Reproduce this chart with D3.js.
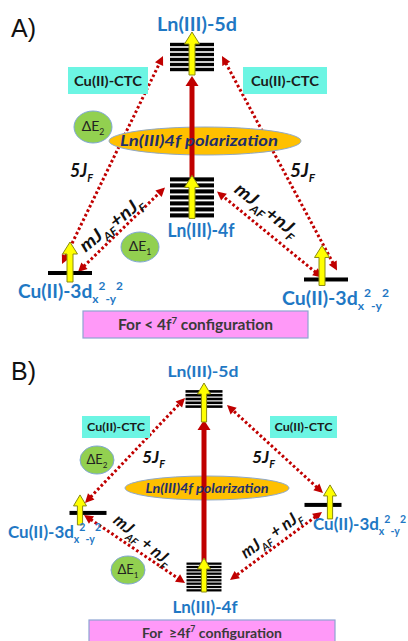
<!DOCTYPE html>
<html><head><meta charset="utf-8">
<script src="https://cdn.jsdelivr.net/npm/d3@7"></script>
<style>html,body{margin:0;padding:0;background:#fff;} svg{display:block;}</style>
</head><body><svg id="c" width="408" height="641"></svg>
<script>
// ---------------- DATA ----------------
const panelLabels = ["A)", "B)"];
const levelNames = ["Cu(II)-3d_{x}^{2}_{-y}^{2}", "Ln(III)-4f", "Ln(III)-5d", "Cu(II)-3d_{x}^{2}_{-y}^{2}"];
const levelSites = ["left", "center", "center", "right"];
const energiesA = [0, 3.5, 10, -0.3];
const energiesB = [3.6, 0, 10, 4.05];
const sublevelsA = [1, 7, 6, 1];
const sublevelsB = [1, 9, 5, 1];
const couplingPairs = [[0, 2], [3, 2], [0, 1], [3, 1]];
const couplingTextsA = ["5J_{F}", "5J_{F}", "mJ_{AF}+nJ_{F}", "mJ_{AF}+nJ_{F}"];
const couplingTextsB = ["5J_{F}", "5J_{F}", "mJ_{AF} + nJ_{F}", "mJ_{AF} + nJ_{F}"];
const transferLabels = ["Cu(II)-CTC", "Cu(II)-CTC"];
const polarizationLabel = "Ln(III)4f polarization";
const gapLabels = ["ΔE_{2}", "ΔE_{1}"];
const configLabels = ["For < 4f^{7} configuration", "For  ≥4f^{7} configuration"];

// ---------------- LAYOUT (positions / styles) ----------------
const layouts = [
  {
    label: [11, 37], labelSize: 25,
    xRange: [70, 192, 326], yRange: [273, 57],
    stackW: [44, 44, 44, 44], stackH: [4, 42, 30, 4],
    arrowDx: [0, 0, 0, -4], arrowExt: [[9, 31], [21, 22], [18, 25], [6, 34]],
    shaft: 3, head: 7.5, headL: 12,
    red: [-20, 19],
    ends: [[[-8, -9], [-29, -1]], [[11, -9], [30, -1]], [[8, -1], [-27, -10]], [[-4, -2], [25, -6]]],
    names: [{x: 18, y: 298, a: "start", s: 18, w: 105}, {dx: 9, dy: 40, a: "middle", s: 18, w: 67}, {dx: 5, dy: -26, a: "middle", s: 18, w: 80}, {x: 282, y: 305, a: "start", s: 18, w: 107}],
    ctc: [[68, 67, 80, 27], [243, 67, 84, 27]], ctcSize: 14, ctcW: 68,
    gaps: [[93, 127, 19, 16], [140, 247, 19, 15]], gapSize: 14,
    pol: [205, 141, 96, 14], polSize: 15, polTextDx: -6, polW: 158,
    coup: [{x: 70, y: 177, r: 0, w: 23}, {x: 290, y: 177, r: 0, w: 25}, {x: 111, y: 224, r: -39, c: true, w: 76}, {x: 267, y: 210, r: 38, c: true, w: 76}], coupSize: 18,
    cfg: [83, 311, 225, 27], cfgSize: 15, cfgW: 155
  },
  {
    label: [11, 380], labelSize: 25,
    xRange: [88, 204, 323], yRange: [577, 399],
    stackW: [37, 35, 37, 37], stackH: [4, 30, 19, 4],
    arrowDx: [-8, 0, 0, 7], arrowExt: [[12, 18], [15, 19], [23, 16], [14, 20]],
    shaft: 2.6, head: 6.5, headL: 11,
    red: [-14, 21],
    ends: [[[-3, -10], [-19, -1]], [[0, -12], [23, 6]], [[-4, 2], [-19, 6]], [[-1, 7], [26, 3]]],
    names: [{x: 8, y: 538, a: "start", s: 17, w: 93}, {dx: 1, dy: 36, a: "middle", s: 17, w: 65}, {dx: -1, dy: -22, a: "middle", s: 16, w: 71}, {x: 313, y: 530, a: "start", s: 17, w: 93}],
    ctc: [[82, 416, 68, 22], [270, 416, 67, 22]], ctcSize: 12, ctcW: 58,
    gaps: [[97, 460, 17, 14], [128, 570, 17, 14]], gapSize: 13,
    pol: [207, 488, 82, 12], polSize: 13, polTextDx: 0, polW: 123,
    coup: [{x: 142, y: 463, r: 0, w: 23}, {x: 252, y: 463, r: 0, w: 23}, {x: 143, y: 540, r: 40, c: true, w: 70}, {x: 271, y: 534, r: -35, c: true, w: 70}], coupSize: 17,
    cfg: [89, 620, 246, 26], cfgSize: 14, cfgW: 140
  }
];

const FONT = "Lato, 'Open Sans', sans-serif";
const RED = "#C00000";
const BLUE = "#1F78C4";

const svg = d3.select("#c");
svg.append("rect").attr("width", 408).attr("height", 641).attr("fill", "#fff");

// rich text helper: _{sub}, ^{sup}; optional target width
function rich(sel, str, size, width) {
  const toks = str.match(/(_\{[^}]*\}|\^\{[^}]*\}|[^_^]+)/g);
  let cur = 0;
  toks.forEach(t => {
    let mode = 0, txt = t;
    if (t.startsWith("_{")) { mode = 1; txt = t.slice(2, -1); }
    else if (t.startsWith("^{")) { mode = 2; txt = t.slice(2, -1); }
    const off = mode === 1 ? size * 0.28 : mode === 2 ? -size * 0.42 : 0;
    sel.append("tspan").attr("dy", off - cur)
      .attr("font-size", mode ? size * 0.62 : size)
      .attr("xml:space", "preserve")
      .text(txt);
    cur = off;
  });
  if (width) sel.attr("textLength", width).attr("lengthAdjust", "spacingAndGlyphs");
}

function drawPanel(p) {
  const L = layouts[p];
  const energies = p === 0 ? energiesA : energiesB;
  const subs = p === 0 ? sublevelsA : sublevelsB;
  const coupTexts = p === 0 ? couplingTextsA : couplingTextsB;
  const x = d3.scaleOrdinal().domain(["left", "center", "right"]).range(L.xRange);
  const y = d3.scaleLinear().domain([0, 10]).range(L.yRange);
  const g = svg.append("g");
  const lv = levelNames.map((n, i) => ({i, name: n, x: x(levelSites[i]), y: y(energies[i]), n: subs[i]}));

  // panel label
  g.append("text").attr("x", L.label[0]).attr("y", L.label[1])
    .attr("font-family", "'Liberation Sans', Arial, sans-serif").attr("font-size", L.labelSize)
    .attr("fill", "#111").text(panelLabels[p]);

  // dotted coupling arrows
  couplingPairs.forEach(([a, b], k) => {
    const e = L.ends[k];
    const p1 = [lv[a].x + e[0][0], lv[a].y + e[0][1]];
    const p2 = [lv[b].x + e[1][0], lv[b].y + e[1][1]];
    const ang = Math.atan2(p2[1] - p1[1], p2[0] - p1[0]);
    const hl = 9, hw = 4.5;
    const c = Math.cos(ang), s = Math.sin(ang);
    g.append("line")
      .attr("x1", p1[0] + c * (hl - 1)).attr("y1", p1[1] + s * (hl - 1))
      .attr("x2", p2[0] - c * (hl - 1)).attr("y2", p2[1] - s * (hl - 1))
      .attr("stroke", RED).attr("stroke-width", 3).attr("stroke-dasharray", "2.6 2.4");
    [[p2, 1], [p1, -1]].forEach(([tip, d]) => {
      const bx = tip[0] - d * c * hl, by = tip[1] - d * s * hl;
      g.append("path")
        .attr("d", `M${tip[0]},${tip[1]}L${bx - s * hw},${by + c * hw}L${bx + s * hw},${by - c * hw}Z`)
        .attr("fill", RED);
    });
  });

  // CTC boxes
  L.ctc.forEach((r, k) => {
    g.append("rect").attr("x", r[0]).attr("y", r[1]).attr("width", r[2]).attr("height", r[3]).attr("fill", "#6CF5E3");
    g.append("text").attr("x", r[0] + r[2] / 2).attr("y", r[1] + r[3] / 2 + L.ctcSize * 0.36)
      .attr("text-anchor", "middle").attr("font-family", FONT).attr("font-weight", 700)
      .attr("font-size", L.ctcSize).attr("fill", "#1a1a1a")
      .attr("textLength", L.ctcW).attr("lengthAdjust", "spacingAndGlyphs")
      .text(transferLabels[k]);
  });

  // gap ellipses
  L.gaps.forEach((e, k) => {
    g.append("ellipse").attr("cx", e[0]).attr("cy", e[1]).attr("rx", e[2]).attr("ry", e[3])
      .attr("fill", "#92D050").attr("stroke", "#7FA6D6").attr("stroke-width", 1);
    const t = g.append("text").attr("x", e[0]).attr("y", e[1] + L.gapSize * 0.3)
      .attr("text-anchor", "middle").attr("font-family", FONT).attr("font-size", L.gapSize).attr("fill", "#222");
    rich(t, gapLabels[k], L.gapSize);
  });

  // polarization ellipse
  const pe = L.pol;
  g.append("ellipse").attr("cx", pe[0]).attr("cy", pe[1]).attr("rx", pe[2]).attr("ry", pe[3])
    .attr("fill", "#FFC000").attr("stroke", "#8FA8C8").attr("stroke-width", 1);

  // red transition arrow 4f -> 5d
  const yb = lv[1].y + L.red[0], yt = lv[2].y + L.red[1];
  const cx = lv[1].x;
  g.append("line").attr("x1", cx).attr("x2", cx).attr("y1", yb).attr("y2", yt + 8)
    .attr("stroke", RED).attr("stroke-width", 5);
  g.append("path").attr("d", `M${cx},${yt}L${cx - 6.5},${yt + 10}L${cx + 6.5},${yt + 10}Z`).attr("fill", RED);

  g.append("text").attr("x", pe[0] + L.polTextDx).attr("y", pe[1] + L.polSize * 0.36)
    .attr("text-anchor", "middle").attr("font-family", FONT).attr("font-weight", 700)
    .attr("font-style", "italic").attr("font-size", L.polSize).attr("fill", "#1F2F6B")
    .attr("textLength", L.polW).attr("lengthAdjust", "spacingAndGlyphs")
    .text(polarizationLabel);

  // levels (stacks of sublevels)
  lv.forEach(d => {
    const w = L.stackW[d.i], H = L.stackH[d.i];
    if (d.n === 1) {
      g.append("rect").attr("x", d.x - w / 2).attr("y", d.y - H / 2).attr("width", w).attr("height", H).attr("fill", "#000");
    } else {
      const pitch = H / d.n, t = pitch * 0.68;
      g.selectAll(null).data(d3.range(d.n)).join("rect")
        .attr("x", d.x - w / 2).attr("y", k => d.y - H / 2 + k * pitch + (pitch - t) / 2)
        .attr("width", w).attr("height", t).attr("fill", "#000");
    }
  });

  // yellow spin arrows
  lv.forEach(d => {
    const ax = d.x + L.arrowDx[d.i];
    const b = d.y + L.arrowExt[d.i][0], t = d.y - L.arrowExt[d.i][1];
    const sw = L.shaft, hw = L.head, hl = L.headL;
    g.append("path")
      .attr("d", `M${ax - sw},${b}L${ax - sw},${t + hl}L${ax - hw},${t + hl}L${ax},${t}L${ax + hw},${t + hl}L${ax + sw},${t + hl}L${ax + sw},${b}Z`)
      .attr("fill", "#FFFF00").attr("stroke", "#8A8A10").attr("stroke-width", 1);
  });

  // level names
  lv.forEach(d => {
    const n = L.names[d.i];
    const tx = n.x !== undefined ? n.x : d.x + n.dx;
    const ty = n.y !== undefined ? n.y : d.y + n.dy;
    const t = g.append("text").attr("x", tx).attr("y", ty).attr("text-anchor", n.a)
      .attr("font-family", FONT).attr("font-weight", 700).attr("font-size", n.s).attr("fill", BLUE);
    rich(t, d.name, n.s, n.w);
  });

  // coupling labels
  L.coup.forEach((c, k) => {
    const t = g.append("text")
      .attr("transform", `translate(${c.x},${c.y}) rotate(${c.r})`)
      .attr("x", 0).attr("y", c.c ? L.coupSize * 0.35 : 0)
      .attr("text-anchor", c.c ? "middle" : "start")
      .attr("font-family", FONT).attr("font-weight", 700).attr("font-style", "italic")
      .attr("font-size", L.coupSize).attr("fill", "#111");
    rich(t, coupTexts[k], L.coupSize, c.w);
  });

  // configuration box
  const r = L.cfg;
  g.append("rect").attr("x", r[0]).attr("y", r[1]).attr("width", r[2]).attr("height", r[3])
    .attr("fill", "#FF99F8").attr("stroke", "#8EA4D2").attr("stroke-width", 1.2);
  const ct = g.append("text").attr("x", r[0] + r[2] / 2).attr("y", r[1] + r[3] / 2 + L.cfgSize * 0.36)
    .attr("text-anchor", "middle").attr("font-family", FONT).attr("font-weight", 700)
    .attr("font-size", L.cfgSize).attr("fill", "#3A3A3A");
  rich(ct, configLabels[p], L.cfgSize, L.cfgW);
}

drawPanel(0);
drawPanel(1);
</script>
</body></html>
